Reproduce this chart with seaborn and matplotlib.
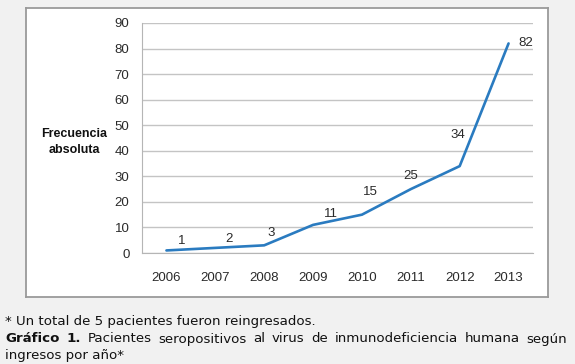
import matplotlib
matplotlib.use('Agg')
import matplotlib.pyplot as plt
import seaborn as sns
import pandas as pd

# Datos del gráfico
anios = ['2006', '2007', '2008', '2009', '2010', '2011', '2012', '2013']
frecuencia = [1, 2, 3, 11, 15, 25, 34, 82]
# desplazamiento de las etiquetas (px)
desp_x = [15, 14, 7, 18, 8, 0, -2, 17]
desp_y = [9, 9, 12, 11, 23, 13, 31, 0]

df = pd.DataFrame({'anio': anios, 'frec': frecuencia})

sns.set_style('white')
plt.rcParams['font.family'] = ['Liberation Sans', 'DejaVu Sans']

fig = plt.figure(figsize=(5.75, 3.64), dpi=100, facecolor='#f1f1f1')

# Marco blanco del gráfico
marco = fig.add_axes([26 / 575, 1 - 297 / 364, 522 / 575, 289 / 364], zorder=0)
marco.set_facecolor('white')
marco.set_xticks([])
marco.set_yticks([])
for s in marco.spines.values():
    s.set_color('#9a9a9a')
    s.set_linewidth(1.3)

ax = fig.add_axes([142 / 575, 1 - 253 / 364, 391 / 575, 230 / 364], zorder=1)
ax.patch.set_alpha(0)

sns.lineplot(data=df, x='anio', y='frec', ax=ax, color='#2a7bc0', linewidth=1.9,
             sort=False)

ax.set_xlim(-0.5, len(anios) - 0.5)
ax.set_ylim(0, 90)
ax.set_yticks(range(0, 91, 10))
ax.yaxis.grid(True, color='#c4c4c4', linewidth=1)
ax.set_axisbelow(True)
for s in ['top', 'right']:
    ax.spines[s].set_visible(False)
ax.spines['left'].set_color('#b5b5b5')
ax.spines['bottom'].set_color('#b5b5b5')
ax.tick_params(axis='y', length=5, color='#b5b5b5', labelsize=9.5, pad=4, labelcolor='#2a2a2a')
ax.tick_params(axis='x', length=0, labelsize=9.5, pad=14, labelcolor='#2a2a2a')
ax.set_xlabel('')
ax.set_ylabel('')

for i, v in enumerate(frecuencia):
    ax.annotate(str(v), (i, v), xytext=(desp_x[i], desp_y[i]), textcoords='offset pixels',
                ha='center', va='center', fontsize=9.5, color='#2a2a2a')

fig.text(74 / 575, 1 - 142 / 364, 'Frecuencia\nabsoluta', ha='center', va='center',
         fontsize=9, fontweight='bold', linespacing=1.4, color='#111111')

# Pie de figura
pie = dict(family='DejaVu Sans', fontsize=9.6, va='center', color='#111111')
fig.text(5 / 575, 1 - 322 / 364, '* Un total de 5 pacientes fueron reingresados.', **pie)

# segunda línea justificada
palabras = [('Gráfico', 'bold'), ('1.', 'bold'), ('Pacientes', 'normal'),
            ('seropositivos', 'normal'), ('al', 'normal'), ('virus', 'normal'),
            ('de', 'normal'), ('inmunodeficiencia', 'normal'), ('humana', 'normal'),
            ('según', 'normal')]
renderer = fig.canvas.get_renderer()
textos = [fig.text(0, 1 - 339 / 364, p, fontweight=w, **pie) for p, w in palabras]
anchos = [t.get_window_extent(renderer).width for t in textos]
x0, x1 = 5, 567
hueco = (x1 - x0 - sum(anchos)) / (len(textos) - 1)
x = x0
for t, w in zip(textos, anchos):
    t.set_x(x / 575)
    x += w + hueco

fig.text(5 / 575, 1 - 355 / 364, 'ingresos por año*', **pie)

fig.savefig('out.png', dpi=100, facecolor=fig.get_facecolor())
